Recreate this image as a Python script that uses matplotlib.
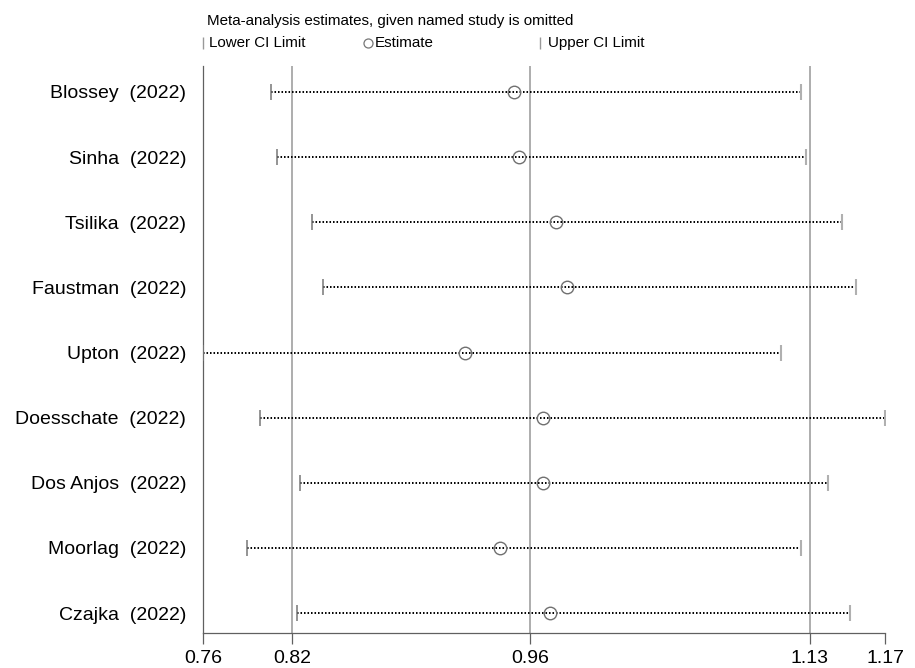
import matplotlib
matplotlib.use("Agg")
import matplotlib.pyplot as plt
from matplotlib.lines import Line2D

plt.rcParams['font.family'] = ['Liberation Sans', 'DejaVu Sans']

studies = ["Blossey  (2022)", "Sinha  (2022)", "Tsilika  (2022)", "Faustman  (2022)",
           "Upton  (2022)", "Doesschate  (2022)", "Dos Anjos  (2022)", "Moorlag  (2022)",
           "Czajka  (2022)"]
lower = [0.8042, 0.8080, 0.8293, 0.8355, 0.7635, 0.7978, 0.8219, 0.7902, 0.8199]
estimate = [0.9507, 0.9539, 0.9760, 0.9828, 0.9212, 0.9680, 0.9680, 0.9423, 0.9725]
upper = [1.1236, 1.1263, 1.1481, 1.1564, 1.1114, 1.1740, 1.1399, 1.1233, 1.1529]

# x axis ticks: min lower, overall lower CI, overall estimate, overall upper CI, max upper
tick_values = [0.7635, 0.8173, 0.9603, 1.1287, 1.1740]
tick_labels = ["0.76", "0.82", "0.96", "1.13", "1.17"]
ref_lines = [0.8173, 0.9603, 1.1287]

head_family = ['Liberation Sans', 'DejaVu Sans']
head_size = 10.9

W, H = 915, 668
fig = plt.figure(figsize=(W / 100, H / 100), dpi=100)
ax = fig.add_axes([203 / W, 1 - 633 / H, 682 / W, 567 / H])

n = len(studies)
ypos = list(range(n, 0, -1))

for xv in ref_lines:
    ax.axvline(xv, color='#a0a0a0', lw=1.2, zorder=1)

for y, lo, est, up in zip(ypos, lower, estimate, upper):
    ax.plot([lo, up], [y, y], color='black', lw=1.4, linestyle=(0, (0.8, 1.0)), zorder=2)

ax.plot(lower, ypos, linestyle='none', marker='|', markersize=11.5, mew=1.1,
        color='#777777', zorder=3)
ax.plot(upper, ypos, linestyle='none', marker='|', markersize=11.5, mew=1.5,
        color='#b0b0b0', zorder=3)
ax.plot(estimate, ypos, linestyle='none', marker='o', markersize=9, mew=1.0,
        markerfacecolor='none', markeredgecolor='#707070', zorder=5)

ax.set_xlim(tick_values[0], tick_values[-1])
ax.set_ylim(1 - 20 / 65.125, n + 26 / 65.125)
ax.set_xticks(tick_values)
ax.set_xticklabels(tick_labels, fontsize=14)
ax.set_yticks(ypos)
ax.set_yticklabels(studies, fontsize=14)
ax.tick_params(axis='x', direction='out', length=8, width=0.9, color='#606060', pad=4)
ax.tick_params(axis='y', length=0, pad=12)
for s in ['top', 'right']:
    ax.spines[s].set_visible(False)
ax.spines['left'].set_color('#606060')
ax.spines['bottom'].set_color('#606060')
ax.spines['left'].set_linewidth(0.9)
ax.spines['bottom'].set_linewidth(0.9)

# title and legend row
fig.text(207 / W, 1 - 21 / H, "Meta-analysis estimates, given named study is omitted",
         fontsize=head_size, family=head_family, ha='left', va='center')
ly = 1 - 43 / H
fig.add_artist(Line2D([203 / W], [ly], marker='|', markersize=9, mew=1.0,
                      color='#999999', transform=fig.transFigure))
fig.text(209 / W, ly, "Lower CI Limit", fontsize=head_size, family=head_family,
         ha='left', va='center')
fig.add_artist(Line2D([368 / W], [ly], marker='o', markersize=6.5, mew=0.9,
                      markerfacecolor='none', markeredgecolor='#777777',
                      transform=fig.transFigure))
fig.text(375 / W, ly, "Estimate", fontsize=head_size, family=head_family,
         ha='left', va='center')
fig.add_artist(Line2D([540 / W], [ly], marker='|', markersize=9, mew=1.0,
                      color='#999999', transform=fig.transFigure))
fig.text(548 / W, ly, "Upper CI Limit", fontsize=head_size, family=head_family,
         ha='left', va='center')

fig.savefig("out.png", dpi=100, facecolor='white')
